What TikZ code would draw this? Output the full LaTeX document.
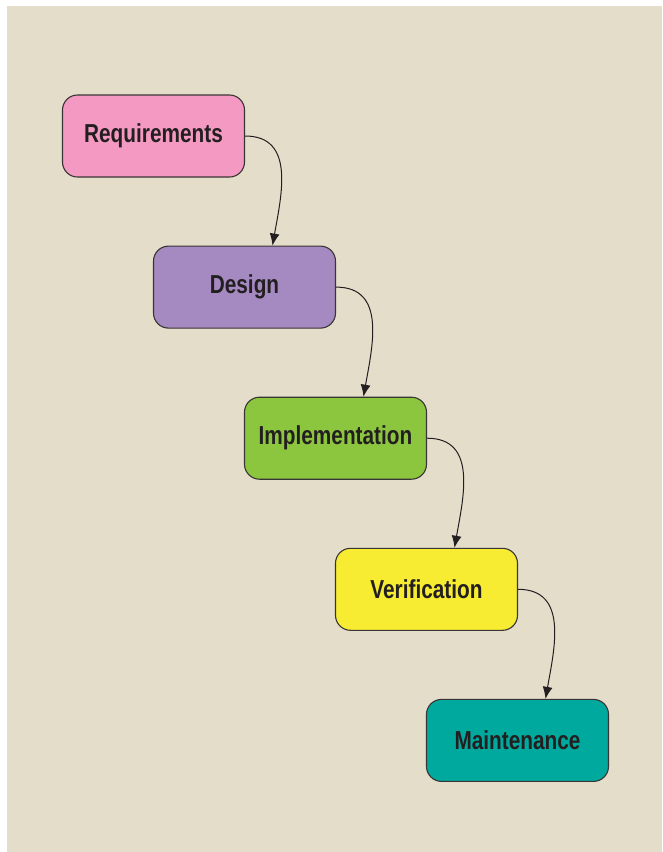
\documentclass[tikz,border=0pt]{standalone}
\usepackage{fontspec}
\setmainfont{Liberation Sans}[FakeStretch=0.8]
\usetikzlibrary{arrows.meta,positioning}
\definecolor{paper}{HTML}{E3DDCA}
\definecolor{req}{HTML}{F49AC2}
\definecolor{des}{HTML}{A589C1}
\definecolor{imp}{HTML}{8CC63F}
\definecolor{ver}{HTML}{F7EC31}
\definecolor{mnt}{HTML}{00A99D}
\definecolor{ink}{HTML}{231F20}

\begin{document}
\begin{tikzpicture}[
  >={Latex[length=12pt,width=10pt]},
  stage/.style={draw=ink!90, line width=1.1pt, rounded corners=15pt,
    minimum width=182pt, minimum height=82pt, text=ink,
    font=\fontsize{26}{30}\selectfont\bfseries},
  e/.style={->, line width=1pt, draw=ink, looseness=1.15}
]
\useasboundingbox (0pt,0pt) rectangle (662pt,-852pt);
\fill[paper] (7pt,-6pt) rectangle (662pt,-852pt);
\node[stage, fill=req] (req) at (153.5pt,-136pt) {Requirements};
\node[stage, fill=des, below=68pt of req, xshift=91pt] (des) {Design};
\node[stage, fill=imp, below=68pt of des, xshift=91pt] (imp) {Implementation};
\node[stage, fill=ver, below=68pt of imp, xshift=91pt] (ver) {Verification};
\node[stage, fill=mnt, below=68pt of ver, xshift=91pt] (mnt) {Maintenance};
\draw[e] (req.east) to[out=0, in=80] ([xshift=28pt]des.north);
\draw[e] (des.east) to[out=0, in=80] ([xshift=28pt]imp.north);
\draw[e] (imp.east) to[out=0, in=80] ([xshift=28pt]ver.north);
\draw[e] (ver.east) to[out=0, in=80] ([xshift=28pt]mnt.north);
\end{tikzpicture}
\end{document}
